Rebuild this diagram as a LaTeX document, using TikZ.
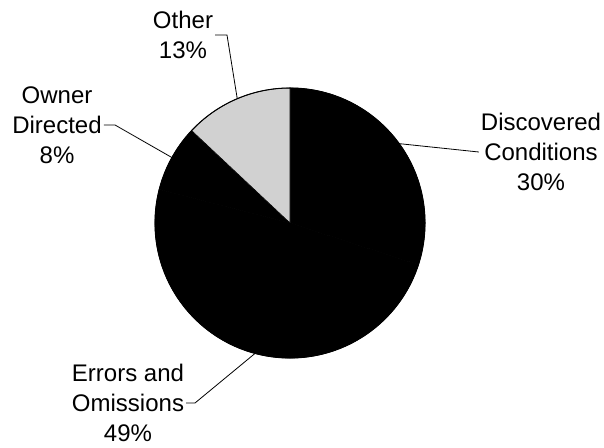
\documentclass[tikz,border=0pt]{standalone}
\usepackage{fontspec}
\setmainfont{Liberation Sans}
\usepackage{tikz}
\usetikzlibrary{calc}

\begin{document}
\begin{tikzpicture}[
  x=1pt, y=1pt,
  label/.style={align=center, inner sep=2pt, font=\fontsize{24}{30}\selectfont},
  leader/.style={draw, line width=0.8pt},
  wedge/.style={fill=black, draw=black, line width=0.6pt},
  stipple/.style={fill=black!18, draw=black, line width=0.6pt}
]
\useasboundingbox (0,0) rectangle (604,447);

\coordinate (C) at (290,224);

\fill[wedge] (C) -- ++(90:135) arc (90:-18:135) -- cycle;
\fill[wedge] (C) -- ++(-18:135) arc (-18:-194.4:135) -- cycle;
\fill[wedge] (C) -- ++(165.6:135) arc (165.6:136.8:135) -- cycle;
\filldraw[stipple] (C) -- ++(136.8:135) arc (136.8:90:135) -- cycle;
\draw[line width=1pt] (C) circle (135);

\node[label] (other) at (183,412) {Other\\13\%};
\node[label] (disc) at (541,295) {Discovered\\Conditions\\30\%};
\node[label] (owner) at (57,322) {Owner\\Directed\\8\%};
\node[label] (errors) at (128,44) {Errors and\\Omissions\\49\%};

\coordinate (Pother) at ($(C)+(113:135)$);
\coordinate (Pdisc) at ($(C)+(36:135)$);
\coordinate (Powner) at ($(C)+(151:135)$);
\coordinate (Perrors) at ($(C)+(255:135)$);

\draw[leader] (other.east) -- (227,412) -- (Pother);
\draw[leader] (disc.west) -- (Pdisc);
\draw[leader] (owner.east) -- (115,322) -- (Powner);
\draw[leader] (errors.east) -- (195,44) -- (Perrors);

\end{tikzpicture}
\end{document}
